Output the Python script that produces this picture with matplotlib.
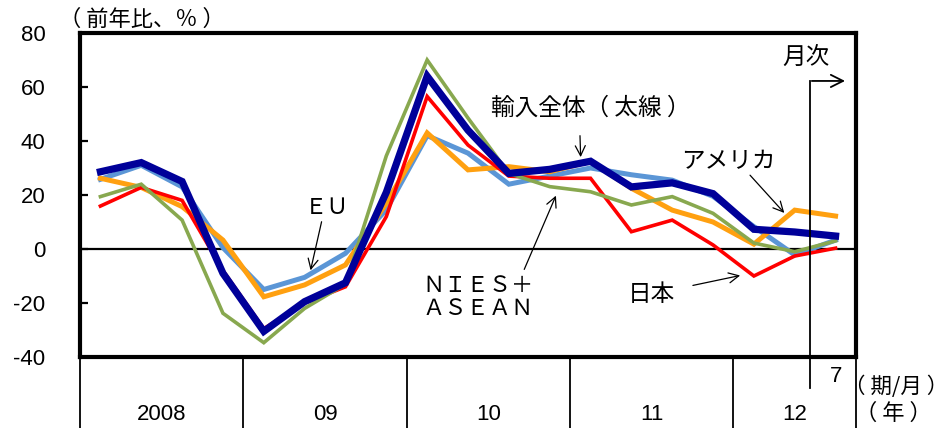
import matplotlib
matplotlib.use('Agg')
import matplotlib.pyplot as plt

plt.rcParams['font.family'] = ['Liberation Sans', 'Noto Sans CJK JP']
plt.rcParams['axes.unicode_minus'] = False
JP = ['Noto Sans CJK JP', 'DejaVu Sans']

# 2008Q1 ... 2012Q2 (四半期), 2012年7月 (月次)
years = ['2008', '09', '10', '11', '12']
year_n = [4, 4, 4, 4, 3]
month_label = '7'

total = [28.6, 32, 25, -9, -30.5, -19.5, -12.5, 21, 64, 44, 28, 29.5, 32.5,
         23, 24.5, 20.5, 7.3, 6.3, 4.8]
eu = [25.8, 31, 23, 0.5, -15, -10.5, -1.6, 14.5, 42, 35.5, 24, 27, 30,
      27.5, 25.5, 19.5, 8.3, -2.2, 3.3]
usa = [26.2, 22.8, 15.7, 3.3, -17.7, -13.3, -5.9, 17, 43, 29.3, 30.5, 28.6,
       32.5, 22.5, 14.4, 10, 1.8, 14.4, 12.2]
japan = [15.9, 22.8, 18, -8, -29.5, -20, -14, 12, 56.5, 38.5, 27, 26.2, 26.2,
         6.4, 10.7, 1.5, -10, -2.6, 0.3]
nies = [19.4, 24, 10.7, -23.8, -34.7, -22, -13, 34.5, 70, 48.5, 28, 23.1,
        21.2, 16.3, 19.4, 13.2, 2.2, -1, 3]

W, H = 949, 428
fig = plt.figure(figsize=(W / 100, H / 100), dpi=100)
ax = fig.add_axes([80 / W, (H - 357) / H, 776 / W, 324 / H])

x = list(range(len(total)))
ax.plot(x, eu, color='#5B96D6', lw=3.6, solid_joinstyle='miter')
ax.plot(x, usa, color='#FFA010', lw=3.6, solid_joinstyle='miter')
ax.plot(x, japan, color='#FF0000', lw=2.6, solid_joinstyle='miter')
ax.plot(x, nies, color='#88A84F', lw=2.6, solid_joinstyle='miter')
ax.plot(x, total, color='#000099', lw=5.2, solid_joinstyle='miter')

ax.axhline(0, color='black', lw=1.6, zorder=1)
ax.set_xlim(-0.5, len(total) - 0.5)
ax.set_ylim(-40, 80)
ax.set_yticks(range(-40, 81, 20))
ax.set_xticks([])
ax.tick_params(axis='y', direction='in', length=6, width=1.6, pad=25, labelsize=16)
for s in ax.spines.values():
    s.set_linewidth(3)

# 年の区切り（軸の下）
xt = ax.get_xaxis_transform()
edges = [-0.5]
for n in year_n:
    edges.append(edges[-1] + n)
for e in edges:
    ax.plot([e, e], [0, -0.3], transform=xt, color='black', lw=1.3, clip_on=False)
for i, y in enumerate(years):
    c = (edges[i] + edges[i + 1]) / 2 if i < len(years) - 1 else edges[i] + 1.5
    ax.text(c, -0.179, y, transform=xt, ha='center', va='center', fontsize=16)
ax.text(len(total) - 1, -0.059, month_label, transform=xt, ha='center', va='center', fontsize=16)

# 月次の区切り
mx = 17.37
ax.plot([mx, mx], [-0.096, 0.852], transform=xt, color='black', lw=1.3, clip_on=False)
ax.annotate('', xy=(18.3, 0.852), xytext=(mx - 0.02, 0.852), xycoords=xt, textcoords=xt,
            arrowprops=dict(arrowstyle='->', lw=1.3, color='black', mutation_scale=22))
ax.text(17.28, 71, '月次', ha='center', va='center', fontsize=17, family=JP)

# ラベルと矢印
arr = dict(arrowstyle='->', lw=0.9, color='black', mutation_scale=18)
ax.text(12.01, 52.2, '輸入全体（ 太線 ）', ha='center', va='center', fontsize=17, family=JP)
ax.annotate('', xy=(11.76, 33), xytext=(11.74, 43), arrowprops=arr)
ax.text(5.55, 15.2, 'ＥＵ', ha='center', va='center', fontsize=16, family=JP)
ax.annotate('', xy=(5.13, -8.9), xytext=(5.43, 11.1), arrowprops=arr)
ax.text(9.25, -17.8, 'ＮＩＥＳ＋\nＡＳＥＡＮ', ha='center', va='center', fontsize=16,
        family=JP, linespacing=1.0)
ax.annotate('', xy=(11.18, 20.7), xytext=(10.35, -8.5), arrowprops=arr)
ax.text(15.37, 32.2, 'アメリカ', ha='center', va='center', fontsize=17, family=JP)
ax.annotate('', xy=(16.79, 12.6), xytext=(15.86, 28.1), arrowprops=arr)
ax.text(13.5, -16.7, '日本', ha='center', va='center', fontsize=17, family=JP)
ax.annotate('', xy=(15.73, -9.6), xytext=(14.44, -13.7), arrowprops=arr)

fig.text(142 / W, 1 - 19 / H, '（ 前年比、％ ）', ha='center', va='center', fontsize=16, family=JP)
fig.text(896 / W, 1 - 387 / H, '（ 期/月 ）', ha='center', va='center', fontsize=15.5, family=JP)
fig.text(893 / W, 1 - 413 / H, '（ 年 ）', ha='center', va='center', fontsize=16, family=JP)

fig.savefig('out.png', dpi=100)
